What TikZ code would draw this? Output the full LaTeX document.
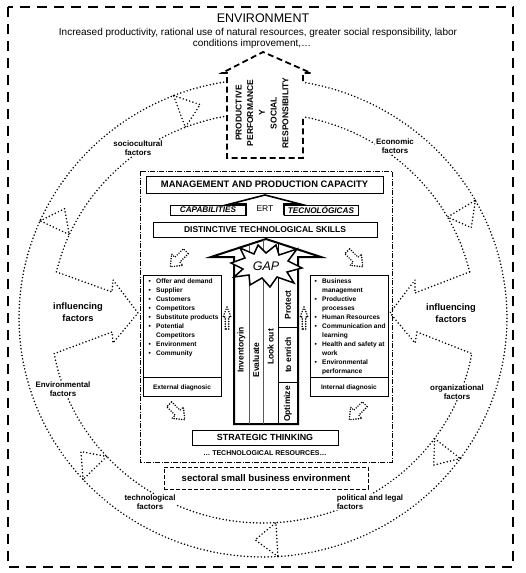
\documentclass[tikz,border=0pt]{standalone}
\usepackage{fontspec}
\setmainfont{Liberation Sans}
\begin{document}
\begin{tikzpicture}[x=1pt,y=-1pt,
  dots/.style={line width=1.7pt, dash pattern=on 0pt off 3.4pt, line cap=round},
  sdots/.style={line width=1.6pt, dash pattern=on 0pt off 2.5pt, line cap=round},
  bigdash/.style={line width=2.2pt, dash pattern=on 10pt off 7pt},
  housedash/.style={line width=1.8pt, dash pattern=on 6pt off 3.5pt},
  dashdot/.style={line width=0.8pt, dash pattern=on 5pt off 1.5pt on 1pt off 1.5pt},
  lbl/.style={font=\fontsize{7.9}{8.6}\selectfont\bfseries, align=center, fill=white, inner sep=0.8pt},
  infl/.style={font=\fontsize{9.3}{11.5}\selectfont\bfseries, align=center, inner sep=0pt},
  boxn/.style={draw, line width=0.8pt, inner sep=0pt},
  listtxt/.style={font=\fontsize{6.6}{9}\selectfont\bfseries, inner sep=0pt, anchor=base west},
  coltxt/.style={font=\fontsize{8.5}{10}\selectfont\bfseries, rotate=90, inner sep=0pt},
  blockarr/.pic={\draw[sdots] (-11,-3.5) -- (1,-3.5) -- (1,-8) -- (11,0) -- (1,8) -- (1,3.5) -- (-11,3.5) -- cycle;}
]
\fill[white] (0,0) rectangle (526,573);
\useasboundingbox (0,0) rectangle (526,573);

% outer border
\draw[bigdash] (8,7) rectangle (513,567);

% title
\node[font=\fontsize{12.5}{14}\selectfont] (env) at (263,18) {ENVIRONMENT};
\node[font=\fontsize{10}{11}\selectfont, anchor=base, inner sep=0pt] (sub1) at (258,35) {Increased productivity, rational use of natural resources, greater social responsibility, labor};
\node[font=\fontsize{10}{11}\selectfont, anchor=base, inner sep=0pt] (sub2) at (252,46.5) {conditions improvement,…};

% ring
\draw[dots] plot[domain=98.5:440.6, samples=220] ({263+244*cos(\x)},{318-239*sin(\x)});
\draw[dots] plot[domain=99.8:167, samples=80] ({263+212*cos(\x)},{318-205*sin(\x)});
\draw[dots] plot[domain=190:350, samples=160] ({263+212*cos(\x)},{318-205*sin(\x)});
\draw[dots] plot[domain=373:439.1, samples=80] ({263+212*cos(\x)},{318-205*sin(\x)});
\foreach \a in {111.5,156,222.5,273.5,324,29.5}
  \draw[dots] ({263+244*cos(\a)},{318-239*sin(\a)}) -- ({263+228*cos(\a-5.5)},{318-222*sin(\a-5.5)}) -- ({263+212*cos(\a)},{318-205*sin(\a)}) -- cycle;

% influencing arrows
\draw[dots] ({263+212*cos(167)},{318-205*sin(167)}) -- (112,292) -- (113,280) -- (138,313) -- (113,343) -- (112,332) -- ({263+212*cos(190)},{318-205*sin(190)});
\draw[dots] ({263+212*cos(13)},{318-205*sin(13)}) -- (415,293) -- (415,280) -- (390,313) -- (415,343) -- (417,332) -- ({263+212*cos(350)},{318-205*sin(350)});

% house arrow
\draw[housedash, line join=miter] (303,81) -- (303,73) -- (311,73) -- (263,52) -- (222,73) -- (227,73) -- (227,158) -- (303,158) -- (303,117);
\node[font=\fontsize{8.5}{11.7}\selectfont\bfseries, rotate=90, align=center, inner sep=0pt] (ppsr) at (262,113) {PRODUCTIVE\\PERFORMANCE\\Y\\SOCIAL\\RESPONSIBILITY};

% ring labels
\node[lbl] (soc) at (138,148) {sociocultural\\factors};
\node[lbl] (eco) at (395,146) {Economic\\factors};
\node[lbl] (envf) at (63,389) {Environmental\\factors};
\node[lbl] (org) at (457,392) {organizational\\factors};
\node[lbl] (tec) at (150,502) {technological\\factors};
\node[lbl, align=left] (pol) at (370,502) {political and legal\\factors};
\node[infl] (infl1) at (78,312) {influencing\\factors};
\node[infl] (infl2) at (451,313) {influencing\\factors};

% inner dash-dot box
\draw[dashdot] (140,171) rectangle (392,462);

\node[boxn, minimum width=237pt, minimum height=17pt, font=\fontsize{9.4}{10}\selectfont\bfseries] (mgmt) at (264.5,184.5) {MANAGEMENT AND PRODUCTION CAPACITY};

% ERT arrow
\draw[line width=1.6pt, line join=miter] (246,215) -- (246,204) -- (230,204) -- (265,195) -- (300,204) -- (284,204) -- (284,215);
\node[font=\fontsize{8.5}{9}\selectfont, inner sep=0pt] (ert) at (265,208.5) {ERT};
\node[boxn, line width=0.7pt, minimum width=76pt, minimum height=10pt, font=\fontsize{8.2}{9}\selectfont\bfseries\itshape] (cap) at (208,210) {CAPABILITIES};
\node[boxn, line width=0.7pt, minimum width=74pt, minimum height=10pt, font=\fontsize{8.2}{9}\selectfont\bfseries\itshape] (tecn) at (321,210) {TECNOLÓGICAS};

\node[boxn, minimum width=224pt, minimum height=15pt, font=\fontsize{8.5}{9}\selectfont\bfseries] (dts) at (265,229.5) {DISTINCTIVE TECHNOLOGICAL SKILLS};

% big arrow
\draw[line width=2pt, line join=miter] (234,424) -- (234,257) -- (211,257) -- (266,239) -- (321,257) -- (298,257) -- (298,424) -- cycle;
\draw[line width=0.6pt, black!65] (249,424) -- (249,244.6) (263,424) -- (263,240);
\draw[line width=0.8pt] (278,424) -- (278,242.9) (278,327) -- (298,327) (278,382) -- (298,382);

% GAP star
\draw[line width=1.5pt, fill=white, line join=miter] (231,263) -- (245,258) -- (240,248) -- (254,254) -- (258,245) -- (266,253) -- (276,245) -- (279,255) -- (297,249) -- (288,261) -- (302,268) -- (287,272) -- (294,283) -- (277,277) -- (270,287) -- (262,278) -- (250,285) -- (249,275) -- (234,277) -- (243,269) -- cycle;
\node[font=\fontsize{12.5}{13}\selectfont\itshape, inner sep=0pt] (gap) at (266,266) {GAP};

% column texts
\node[coltxt] (inv) at (241.5,350) {Inventoryin};
\node[coltxt] (eva) at (256,360) {Evaluate};
\node[coltxt] (look) at (270.5,347) {Look out};
\node[coltxt] (prot) at (288,305) {Protect};
\node[coltxt] (enr) at (288,355) {to enrich};
\node[coltxt] (opt) at (288,404) {Optimize};

% external / internal boxes
\node[boxn, minimum width=78pt, minimum height=121pt] (extbox) at (182,335.5) {};
\draw[line width=0.8pt] (143,377) -- (221,377);
\node[font=\fontsize{6.5}{7}\selectfont\bfseries, inner sep=0pt] (extl) at (182,388) {External diagnosic};
\node[boxn, minimum width=78pt, minimum height=121pt] (intbox) at (349,335.5) {};
\draw[line width=0.8pt] (310,377) -- (388,377);
\node[font=\fontsize{6.5}{7}\selectfont\bfseries, inner sep=0pt] (intl) at (349,388) {Internal diagnosic};

\foreach \b/\t [count=\i] in {1/Offer and demand,1/Supplier,1/Customers,1/Competitors,1/Substitute products,1/Potential,0/Competitors,1/Environment,1/Community}{
  \node[listtxt] (ext\i) at (156,{274+9*\i}) {\t};
  \ifnum\b=1 \node[listtxt] (extb\i) at (148.5,{274+9*\i}) {•};\fi
}
\foreach \b/\t [count=\i] in {1/Business,0/management,1/Productive,0/processes,1/Human Resources,1/Communication and,0/learning,1/Health and safety at,0/work,1/Environmental,0/performance}{
  \node[listtxt] (int\i) at (322,{274+9*\i}) {\t};
  \ifnum\b=1 \node[listtxt] (intb\i) at (314.5,{274+9*\i}) {•};\fi
}

% small dotted arrows
\pic[rotate=225] (pa1) at (178,259) {blockarr};
\pic[rotate=-45] (pa2) at (355,259) {blockarr};
\pic[rotate=-45] (pa3) at (177,412) {blockarr};
\pic[rotate=225] (pa4) at (357,412) {blockarr};
\pic[rotate=90, yscale=0.5] (pa5) at (227,318) {blockarr};
\pic[rotate=90, yscale=0.5] (pa6) at (304,318) {blockarr};

% strategic
\node[boxn, minimum width=146pt, minimum height=15pt, font=\fontsize{8.9}{9}\selectfont\bfseries] (strat) at (265,437.5) {STRATEGIC THINKING};
\node[font=\fontsize{7}{8}\selectfont\bfseries, inner sep=0pt] (tres) at (265,453) {… TECHNOLOGICAL RESOURCES…};

\node[draw, line width=0.9pt, dash pattern=on 4pt off 2pt, minimum width=204pt, minimum height=22pt, font=\fontsize{9.6}{10}\selectfont\bfseries] (sect) at (266,478) {sectoral small business environment};
\end{tikzpicture}
\end{document}
